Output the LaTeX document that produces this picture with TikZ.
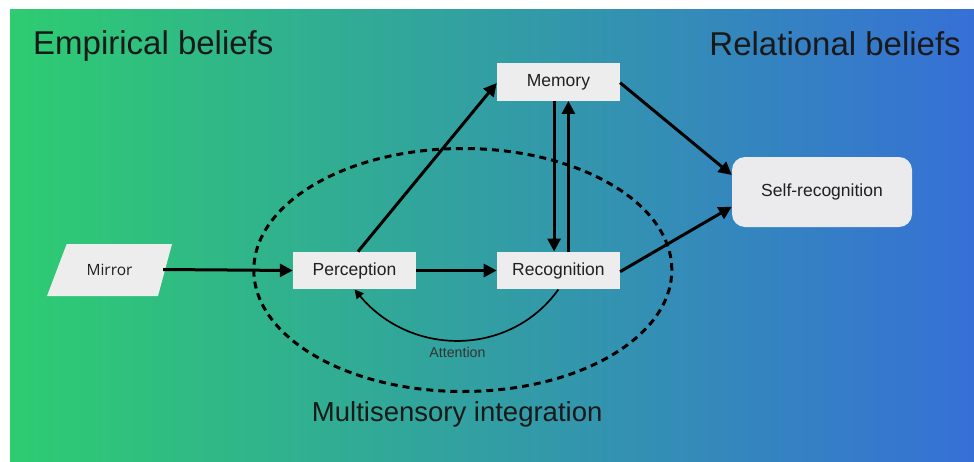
\documentclass[tikz,border=0pt]{standalone}
\usepackage{fontspec}
\setmainfont{Liberation Sans}
\newfontfamily\mirrorfont{Open Sans}
\usetikzlibrary{arrows.meta,shapes.geometric,calc}

\definecolor{bgleft}{RGB}{46,204,113}
\definecolor{bgmid}{RGB}{50,163,158}
\definecolor{bgright}{RGB}{54,112,214}
\definecolor{boxfill}{RGB}{237,237,237}
\definecolor{selffill}{RGB}{235,235,238}
\definecolor{ink}{RGB}{32,32,32}

\begin{document}
\begin{tikzpicture}[x=1pt,y=-1pt,
  box/.style={rectangle, fill=boxfill, minimum width=123pt, minimum height=37.5pt,
    inner sep=0pt, font=\fontsize{17.5}{20}\selectfont, text=ink},
  flow/.style={line width=3pt, -{Triangle[length=13pt,width=13pt]}},
  thinflow/.style={line width=1.7pt, -{Triangle[length=9pt,width=9pt]}},
  heading/.style={font=\fontsize{33}{38}\selectfont, text=black!90, inner sep=0pt},
]
\useasboundingbox (0,0) rectangle (974,461);

% background band
\shade[left color=bgleft, middle color=bgmid, right color=bgright]
  (10,9) rectangle (974,461);

% headings
\node[heading, anchor=base west] (emp) at (33,54) {Empirical beliefs};
\node[heading, anchor=base east] (rel) at (961,55) {Relational beliefs};

% multisensory integration region
\node (ms) [ellipse, draw=black, line width=3pt, dash pattern=on 7pt off 5pt,
  minimum width=418pt, minimum height=243pt, inner sep=0pt] at (462.8,270) {};
\node[font=\fontsize{27.5}{32}\selectfont, text=black!90, anchor=base, inner sep=0pt]
  (mslabel) at (457.2,421) {Multisensory integration};

% mirror (parallelogram)
\fill[boxfill] (47,296) -- (158,296) -- (172,244) -- (66.7,244) -- cycle;
\node (mirror) [rectangle, minimum width=107pt, minimum height=52pt, inner sep=0pt,
  font=\mirrorfont\fontsize{15.5}{18}\selectfont, text=ink] at (109.5,269.5) {Mirror};

% process boxes
\node[box] (perc) at (354.5,270.5) {Perception};
\node[box] (recog) at (558.4,270.5) {Recognition};
\node[box] (mem) at (558.4,82) {Memory};
\node[box, fill=selffill, minimum width=180pt, minimum height=70pt, rounded corners=13pt]
  (self) at (822,192) {Self-recognition};

% connectors
\draw[flow] (mirror.east) -- (perc.west);
\draw[flow] (perc.east) -- (recog.west);
\draw[flow] ([xshift=3.5pt]perc.north) -- ([yshift=-1pt]mem.west);
\draw[flow] ([xshift=-4.3pt]mem.south) -- ([xshift=-4.3pt]recog.north);
\draw[flow] ([xshift=10pt]recog.north) -- ([xshift=10pt]mem.south);
\draw[flow] ([yshift=-0.7pt]mem.east) -- ([yshift=17pt]self.west);
\draw[flow] ([yshift=-1.2pt]recog.east) -- ([yshift=-14.7pt]self.west);
\draw[thinflow] (recog.south) .. controls +(-48,67) and +(57,68) .. (perc.south);
\node[font=\fontsize{14.2}{16}\selectfont, text=black!80, inner sep=0pt]
  (att) at (457.5,352.5) {Attention};
\end{tikzpicture}
\end{document}
